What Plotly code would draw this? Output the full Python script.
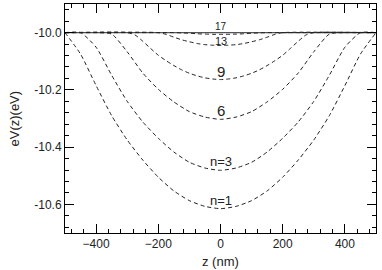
import plotly.graph_objects as go

# ---- data ----
z_wide = [-500, -450, -400, -350, -300, -250, -200, -150, -100, -50, 0,
          50, 100, 150, 200, 250, 300, 350, 400, 450, 500]
v_n1 = [-10.000, -10.075, -10.185, -10.290, -10.375, -10.445, -10.505, -10.553, -10.587, -10.607, -10.615,
        -10.607, -10.587, -10.553, -10.505, -10.445, -10.375, -10.290, -10.185, -10.075, -10.000]
v_n3 = [-10.000, -10.000, -10.051, -10.149, -10.240, -10.312, -10.369, -10.417, -10.453, -10.473, -10.481,
        -10.473, -10.453, -10.417, -10.369, -10.312, -10.240, -10.149, -10.051, -10.000, -10.000]
v_n6 = [-10.000, -10.000, -10.000, -10.005, -10.067, -10.141, -10.198, -10.242, -10.276, -10.295, -10.303,
        -10.295, -10.276, -10.242, -10.198, -10.141, -10.067, -10.005, -10.000, -10.000, -10.000]

z_mid = [-500, -300, -275, -250, -225, -200, -175, -150, -125, -100, -75, -50, -25, 0,
         25, 50, 75, 100, 125, 150, 175, 200, 225, 250, 275, 300, 500]
v_n9 = [-10.000, -10.000, -10.008, -10.030, -10.055, -10.079, -10.098, -10.115, -10.130, -10.142, -10.151, -10.158, -10.162, -10.164,
        -10.162, -10.158, -10.151, -10.142, -10.130, -10.115, -10.098, -10.079, -10.055, -10.030, -10.008, -10.000, -10.000]

z_narrow = [-500, -200, -175, -150, -125, -100, -75, -50, -25, 0,
            25, 50, 75, 100, 125, 150, 175, 200, 500]
v_n13 = [-10.000, -10.000, -10.006, -10.016, -10.025, -10.032, -10.038, -10.042, -10.044, -10.045,
         -10.044, -10.042, -10.038, -10.032, -10.025, -10.016, -10.006, -10.000, -10.000]
v_n17 = [-10.000, -10.000, -10.000, -10.000, -10.001, -10.002, -10.004, -10.005, -10.006, -10.006,
         -10.006, -10.005, -10.004, -10.002, -10.001, -10.000, -10.000, -10.000, -10.000]

base_z = [-500, 500]
base_v = [-10.0, -10.0]

labels = ["17", "13", "9", "6", "n=3", "n=1"]
label_y = [-10.006, -10.045, -10.164, -10.303, -10.481, -10.615]
label_size = [10, 11, 15, 15, 13, 13]
label_shift = [0, -3, -2, -2, -1, -1]

x_ticks = [-400, -200, 0, 200, 400]
y_ticks = [-10.6, -10.4, -10.2, -10.0]
y_ticktext = ["-10.6", "-10.4", "-10.2", "-10.0"]

FONT = "Liberation Sans, Arial"
INK = "#222222"

# ---- figure ----
fig = go.Figure()
fig.add_trace(go.Scatter(x=base_z, y=base_v, mode="lines",
                         line=dict(color="#555555", width=1.2), hoverinfo="skip"))
dash_line = dict(color=INK, width=1, dash="4px,3px", shape="spline", smoothing=0.6)
for zz, vv in [(z_wide, v_n1), (z_wide, v_n3), (z_wide, v_n6),
               (z_mid, v_n9), (z_narrow, v_n13), (z_narrow, v_n17)]:
    fig.add_trace(go.Scatter(x=zz, y=vv, mode="lines", line=dash_line))

for t, yy, s, sh in zip(labels, label_y, label_size, label_shift):
    fig.add_annotation(x=3, y=yy, text=t, showarrow=False, yshift=sh,
                       font=dict(size=s, color=INK, family=FONT),
                       xanchor="center", yanchor="bottom")

# axis titles placed as annotations in pixel offsets from the plot edges
fig.add_annotation(xref="paper", yref="paper", x=0.5, y=0, yshift=-28,
                   text="z (nm)", showarrow=False, xanchor="center", yanchor="middle",
                   font=dict(size=13, color=INK, family=FONT))
fig.add_annotation(xref="paper", yref="paper", x=0, y=0.5, xshift=-51,
                   text="eV(z)(eV)", showarrow=False, textangle=-90,
                   xanchor="center", yanchor="middle",
                   font=dict(size=13, color=INK, family=FONT))

axis_common = dict(showline=True, linecolor="black", linewidth=1, mirror="ticks",
                   ticks="inside", tickcolor="black", ticklen=9, tickwidth=1,
                   showgrid=False, zeroline=False,
                   tickfont=dict(size=12, color=INK, family=FONT))
fig.update_xaxes(range=[-500, 500], tickvals=x_ticks,
                 minor=dict(dtick=40, tick0=0, ticks="inside", ticklen=4, tickcolor="black", showgrid=False),
                 **axis_common)
fig.update_yaxes(range=[-10.7, -9.9], tickvals=y_ticks, ticktext=y_ticktext,
                 minor=dict(dtick=0.04, tick0=-10.0, ticks="inside", ticklen=4, tickcolor="black", showgrid=False),
                 **axis_common)
fig.update_layout(width=382, height=270, showlegend=False,
                  margin=dict(l=65, r=6, t=4, b=37),
                  plot_bgcolor="white", paper_bgcolor="white")
fig.write_html("out.html", config={"displayModeBar": False},
               post_script="document.body.style.margin='0px';document.body.style.overflow='hidden';")
